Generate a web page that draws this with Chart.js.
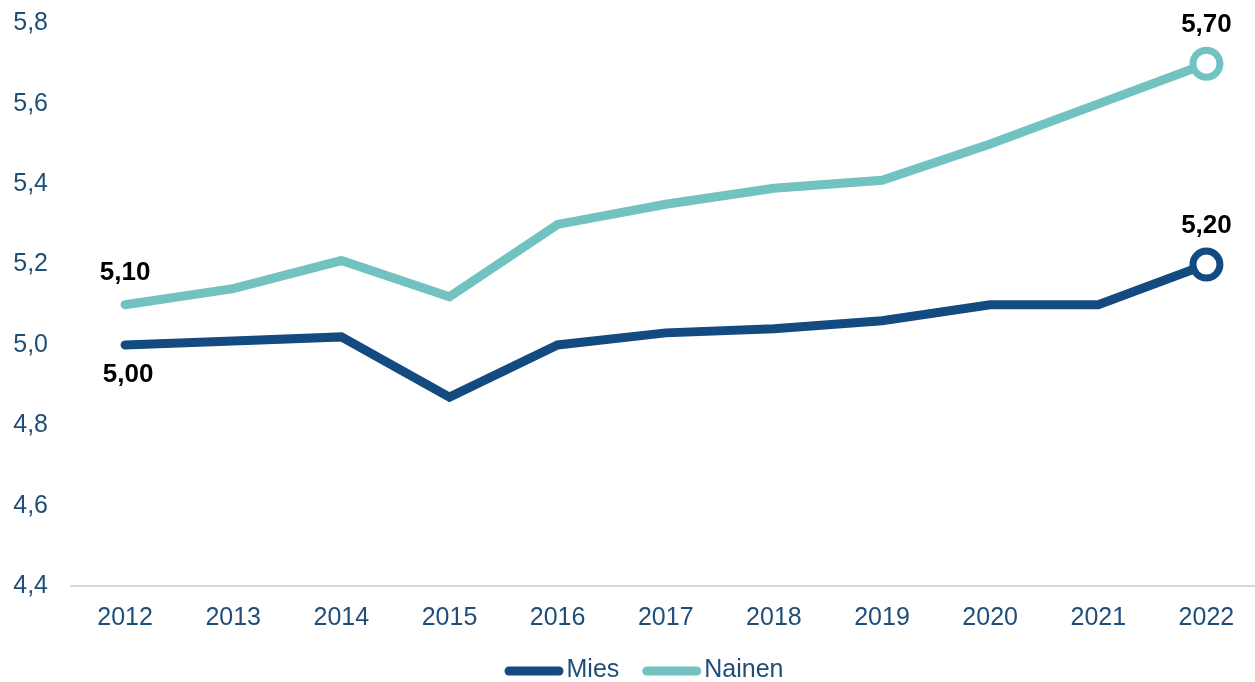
<!DOCTYPE html>
<html>
<head>
<meta charset="utf-8">
<script src="https://cdn.jsdelivr.net/npm/chart.js@4/dist/chart.umd.min.js"></script>
<style>
  html, body { margin: 0; padding: 0; background: #ffffff; overflow: hidden; width: 1255px; height: 682px; }
  #wrap { position: absolute; left: 0; top: 3px; width: 1281px; height: 679px; }
</style>
</head>
<body>
<div id="wrap"><canvas id="c"></canvas></div>
<script>
const years = ['2012','2013','2014','2015','2016','2017','2018','2019','2020','2021','2022'];
const mies = [5.00, 5.01, 5.02, 4.87, 5.00, 5.03, 5.04, 5.06, 5.10, 5.10, 5.20];
const nainen = [5.10, 5.14, 5.21, 5.12, 5.30, 5.35, 5.39, 5.41, 5.50, 5.60, 5.70];
const seriesNames = ['Mies', 'Nainen'];
const yTicks = [4.4, 4.6, 4.8, 5.0, 5.2, 5.4, 5.6, 5.8];
// labelled points: [datasetIndex, pointIndex, position]
const labelled = [[0, 0, 'below'], [1, 0, 'above'], [0, 10, 'above'], [1, 10, 'above']];

const DARK = '#134A80';
const TEAL = '#71C2C0';
const TICK = '#1F4E79';
const FONT = '"Liberation Sans", Arial, sans-serif';

function fmt(v, d) { return v.toFixed(d).replace('.', ','); }

const lastOnly = (r) => years.map((_, i) => i === years.length - 1 ? r : 0);

const dataLabelPlugin = {
  id: 'dataLabels',
  afterDatasetsDraw(chart) {
    const ctx = chart.ctx;
    ctx.save();
    ctx.font = 'bold 26px ' + FONT;
    ctx.fillStyle = '#000000';
    ctx.textAlign = 'center';
    ctx.textBaseline = 'middle';
    labelled.forEach(([di, pi, pos]) => {
      const pt = chart.getDatasetMeta(di).data[pi];
      const v = chart.data.datasets[di].data[pi];
      const isEnd = pi === years.length - 1;
      let dy, dx = 0;
      if (pos === 'above') dy = isEnd ? -39 : -32;
      else { dy = 30; dx = 3; }
      ctx.fillText(fmt(v, 2), pt.x + dx, pt.y + dy);
    });
    ctx.restore();
  }
};

const legendPlugin = {
  id: 'customLegend',
  afterDraw(chart) {
    const ctx = chart.ctx;
    ctx.save();
    ctx.font = '25px ' + FONT;
    ctx.textBaseline = 'middle';
    ctx.textAlign = 'left';
    const lineW = 59, gap = 3, itemGap = 23, y = 667, centerX = 644;
    const items = chart.data.datasets.map(ds => ({ text: ds.label, color: ds.borderColor, w: lineW + gap + ctx.measureText(ds.label).width }));
    const total = items.reduce((s, it) => s + it.w, 0) + itemGap * (items.length - 1);
    let x = centerX - total / 2;
    items.forEach(it => {
      ctx.strokeStyle = it.color;
      ctx.lineWidth = 9;
      ctx.lineCap = 'round';
      ctx.beginPath();
      ctx.moveTo(x + 4.5, y + 1);
      ctx.lineTo(x + lineW - 4.5, y + 1);
      ctx.stroke();
      ctx.fillStyle = TICK;
      ctx.fillText(it.text, x + lineW + gap, y);
      x += it.w + itemGap;
    });
    ctx.restore();
  }
};

new Chart(document.getElementById('c'), {
  type: 'line',
  data: {
    labels: years,
    datasets: [
      {
        label: seriesNames[0],
        data: mies,
        borderColor: DARK,
        backgroundColor: DARK,
        borderWidth: 9,
        borderCapStyle: 'round',
        borderJoinStyle: 'miter',
        tension: 0,
        pointRadius: lastOnly(13.5),
        pointHoverRadius: lastOnly(13.5),
        pointBackgroundColor: '#ffffff',
        pointBorderColor: DARK,
        pointBorderWidth: 7
      },
      {
        label: seriesNames[1],
        data: nainen,
        borderColor: TEAL,
        backgroundColor: TEAL,
        borderWidth: 9,
        borderCapStyle: 'round',
        borderJoinStyle: 'miter',
        tension: 0,
        pointRadius: lastOnly(13.5),
        pointHoverRadius: lastOnly(13.5),
        pointBackgroundColor: '#ffffff',
        pointBorderColor: TEAL,
        pointBorderWidth: 7
      }
    ]
  },
  options: {
    responsive: true,
    maintainAspectRatio: false,
    animation: false,
    layout: { padding: { top: 0, right: 0, left: 0, bottom: 47 } },
    plugins: {
      tooltip: { enabled: false },
      legend: { display: false }
    },
    scales: {
      x: {
        offset: true,
        grid: { display: true, drawOnChartArea: false, drawTicks: true, tickLength: 15, color: 'rgba(0,0,0,0)' },
        border: { display: true, color: '#D9D9D9', width: 2 },
        ticks: {
          color: TICK,
          padding: 2,
          maxRotation: 0,
          font: { size: 25, family: FONT }
        }
      },
      y: {
        min: yTicks[0],
        max: yTicks[yTicks.length - 1],
        grid: { display: false, drawTicks: false },
        border: { display: false },
        afterBuildTicks(scale) { scale.ticks = yTicks.map(v => ({ value: v })); },
        afterFit(scale) { scale.width = 71; scale.paddingTop = 0; scale.paddingBottom = 0; },
        ticks: {
          color: TICK,
          padding: 23,
          font: { size: 25, family: FONT },
          callback: (v) => fmt(v, 1)
        }
      }
    }
  },
  plugins: [dataLabelPlugin, legendPlugin]
});
</script>
</body>
</html>
